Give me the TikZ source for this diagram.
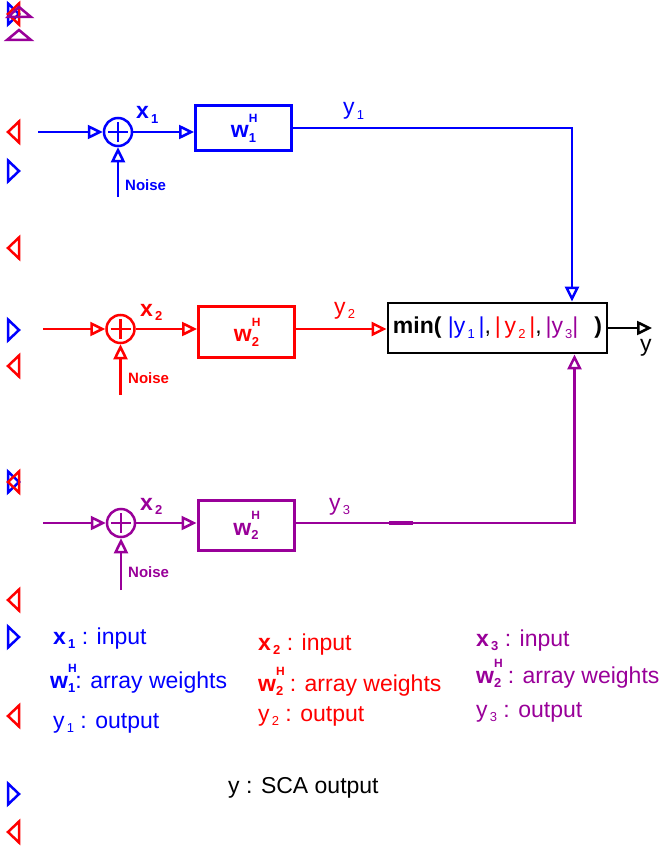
\documentclass[tikz,border=0pt]{standalone}
\usepackage{fontspec}
\setmainfont{Liberation Sans}
\usetikzlibrary{arrows.meta,calc}
\definecolor{ChOneClr}{rgb}{0,0,1}
\definecolor{ChTwoClr}{rgb}{1,0,0}
\definecolor{ChThreeClr}{rgb}{0.6,0,0.6}
\newcommand{\lowsub}[1]{\raisebox{-0.4ex}{\fontsize{13}{13}\selectfont\,#1}}
\newcommand{\wgt}[1]{\textbf{w}\rlap{\raisebox{1.3ex}{\fontsize{12}{12}\selectfont\bfseries H}}\raisebox{-0.35ex}{\fontsize{13}{13}\selectfont\bfseries #1}}

\begin{document}
\begin{tikzpicture}[x=1pt,y=-1pt,
  wire/.style={line width=2.5pt},
  sig/.style={wire,-{Triangle[open,length=15pt,width=14pt]}},
  sumnode/.style={circle,draw,line width=2.5pt,minimum size=28pt,inner sep=0pt,
    path picture={\draw[line width=2.5pt]
      ([xshift=-10pt]path picture bounding box.center) -- ([xshift=10pt]path picture bounding box.center)
      ([yshift=-10pt]path picture bounding box.center) -- ([yshift=10pt]path picture bounding box.center);}},
  wbox/.style={draw,line width=3pt,minimum width=96pt,inner sep=0pt,font=\fontsize{23}{27}\selectfont},
  lbl/.style={font=\fontsize{23}{27}\selectfont,inner sep=0pt,anchor=base west},
  noiselbl/.style={font=\fontsize{15}{18}\selectfont\bfseries,inner sep=0pt,anchor=base west},
  ghost/.style={line width=2.5pt}]
\useasboundingbox (0,0) rectangle (660,848);

% stray tips on the left edge
\foreach \gy in {14,171,330,482,637,794}
  \draw[ghost,ChOneClr] (8,\gy-10.5) -- (19,\gy) -- (8,\gy+10.5) -- cycle;
\foreach \gy in {14,132,248,366,482,600,716,832}
  \draw[ghost,ChTwoClr] (19,\gy-10.5) -- (8,\gy) -- (19,\gy+10.5) -- cycle;
\draw[ghost,ChThreeClr] (8,17) -- (19,7) -- (31,17) -- cycle;
\draw[ghost,ChThreeClr] (7,40) -- (19,30) -- (31,40) -- cycle;

% combiner
\node[draw,line width=2.8pt,minimum width=219pt,minimum height=50pt,inner sep=0pt,
  font=\fontsize{23}{28}\selectfont] (minbox) at (497.5,328)
  {\textbf{min(} \textcolor{ChOneClr}{|y\lowsub{1}\,|},\,\textcolor{ChTwoClr}{|\,y\lowsub{2}\,|},\,\textcolor{ChThreeClr}{|y\lowsub{3}|}\hspace{16pt}\textbf{)}\hspace{11pt}};
\coordinate (yout) at (652,328);
\draw[sig] (minbox.east) -- (yout);
\node[lbl] (ylbl) at (640,351) {y};

% channel 1
\coordinate (in1) at (38,132);
\coordinate (nz1) at (118,197);
\node[sumnode,color=ChOneClr] (sum1) at (118,132) {};
\node[wbox,color=ChOneClr,minimum height=45pt] (box1) at (243.5,128) {\wgt{1}};
\draw[sig,ChOneClr] (in1) -- (sum1);
\draw[sig,ChOneClr] (nz1) -- (sum1);
\draw[sig,ChOneClr] (sum1) -- (sum1 -| box1.west);
\draw[sig,ChOneClr] (box1.east) -| ([xshift=74.5pt]minbox.north);
\node[lbl,ChOneClr] (x1lbl) at (136,119) {\textbf{x}\lowsub{\bfseries 1}};
\node[noiselbl,ChOneClr] (nz1lbl) at (125,190) {Noise};
\node[lbl,ChOneClr] (y1lbl) at (343,115) {y\lowsub{1}};

% channel 2
\coordinate (in2) at (43,329);
\coordinate (nz2) at (120.5,395);
\node[sumnode,color=ChTwoClr] (sum2) at (120.5,329) {};
\node[wbox,color=ChTwoClr,minimum height=51pt] (box2) at (246.5,332) {\wgt{2}};
\draw[sig,ChTwoClr] (in2) -- (sum2);
\draw[sig,ChTwoClr] (nz2) -- (sum2);
\draw[sig,ChTwoClr] (sum2) -- (sum2 -| box2.west);
\draw[sig,ChTwoClr] (box2.east |- sum2) -- (sum2 -| minbox.west);
\node[lbl,ChTwoClr] (x2lbl) at (140,316) {\textbf{x}\lowsub{\bfseries 2}};
\node[noiselbl,ChTwoClr] (nz2lbl) at (128,383) {Noise};
\node[lbl,ChTwoClr] (y2lbl) at (334,314) {y\lowsub{2}};

% channel 3
\coordinate (in3) at (43,523);
\coordinate (nz3) at (121,590);
\node[sumnode,color=ChThreeClr] (sum3) at (121,523) {};
\node[wbox,color=ChThreeClr,minimum height=50pt] (box3) at (246,525.5) {\wgt{2}};
\draw[sig,ChThreeClr] (in3) -- (sum3);
\draw[sig,ChThreeClr] (nz3) -- (sum3);
\draw[sig,ChThreeClr] (sum3) -- (sum3 -| box3.west);
\draw[sig,ChThreeClr] (box3.east |- sum3) -| ([xshift=77pt]minbox.south);
\draw[ChThreeClr,line width=3.5pt] (389,523) -- (413,523);
\node[lbl,ChThreeClr] (x3lbl) at (140,510) {\textbf{x}\lowsub{\bfseries 2}};
\node[noiselbl,ChThreeClr] (nz3lbl) at (128,577) {Noise};
\node[lbl,ChThreeClr] (y3lbl) at (329,510) {y\lowsub{3}};

% legend
\node[lbl,ChOneClr] (lgx1) at (53,644) {\textbf{x}\lowsub{\bfseries 1} : input};
\node[lbl,ChOneClr] (lgw1) at (50,688) {\wgt{1}: array weights};
\node[lbl,ChOneClr] (lgy1) at (53,728) {y\lowsub{1} : output};
\node[lbl,ChTwoClr] (lgx2) at (258,650) {\textbf{x}\lowsub{\bfseries 2}\ : input};
\node[lbl,ChTwoClr] (lgw2) at (258,691) {\wgt{2} : array weights};
\node[lbl,ChTwoClr] (lgy2) at (258,721) {y\lowsub{2} : output};
\node[lbl,ChThreeClr] (lgx3) at (476,646) {\textbf{x}\lowsub{\bfseries 3}\ : input};
\node[lbl,ChThreeClr] (lgw3) at (476,683) {\wgt{2} : array weights};
\node[lbl,ChThreeClr] (lgy3) at (476,717) {y\lowsub{3} : output};
\node[lbl] (lgy) at (228,793) {y : SCA output};
\end{tikzpicture}
\end{document}
